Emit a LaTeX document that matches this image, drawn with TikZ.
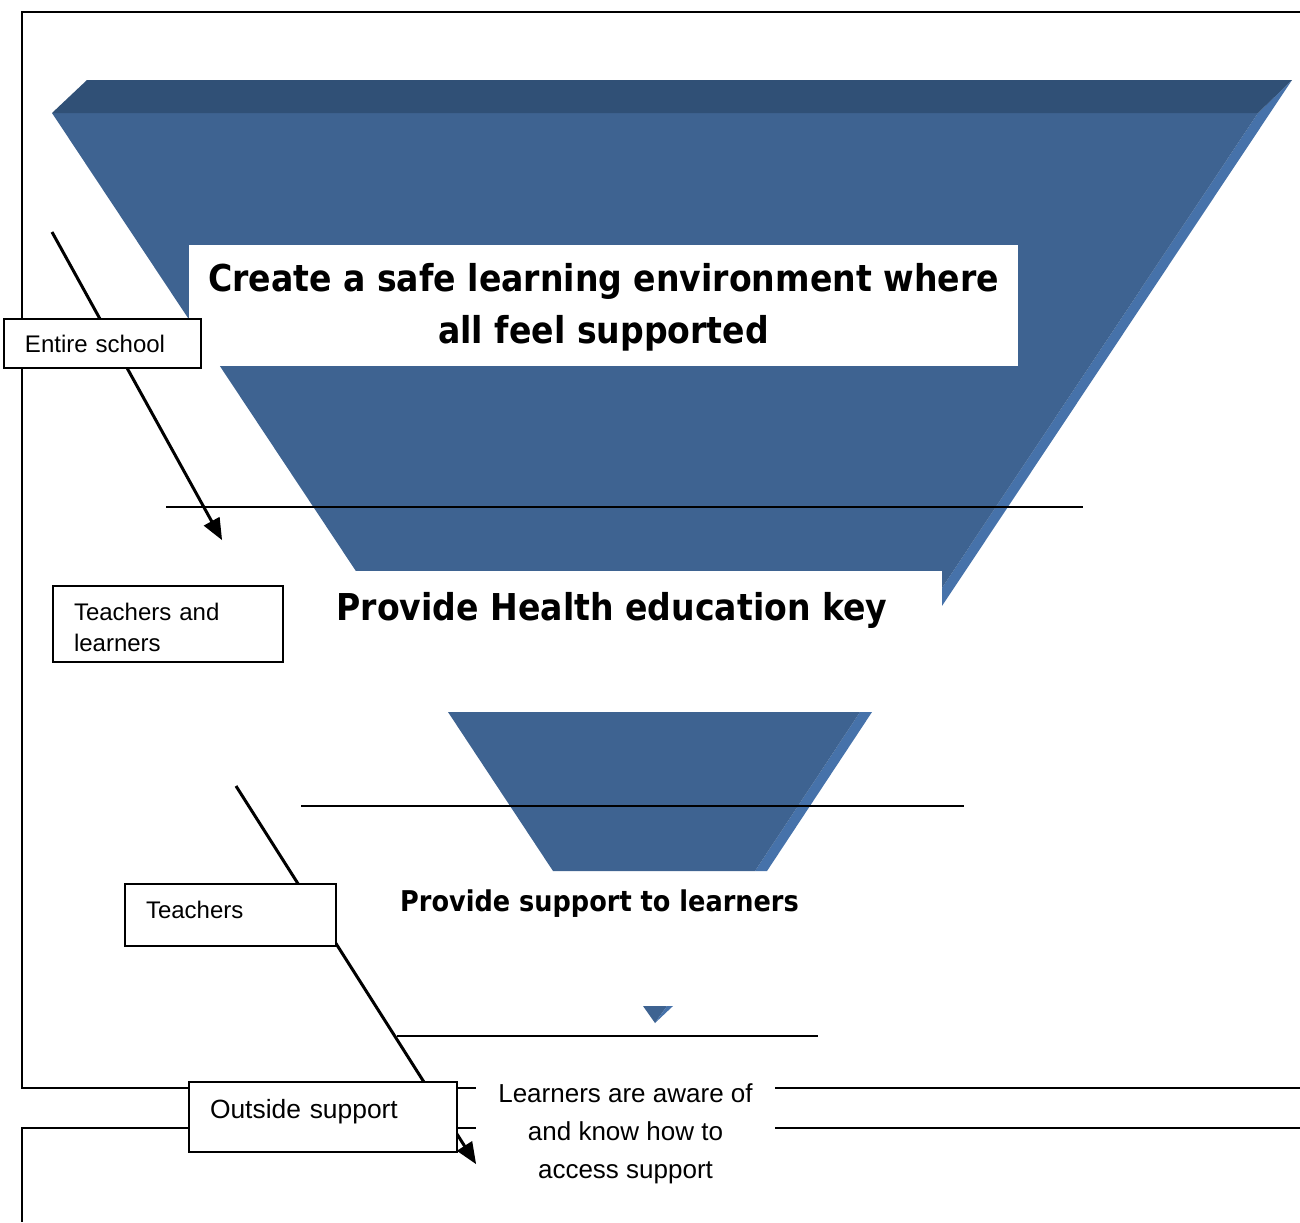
\documentclass[tikz,border=0pt]{standalone}
\usepackage{fontspec}
\setmainfont{Liberation Sans}
\newfontfamily\headfont[FakeStretch=0.895]{DejaVu Sans}
\usepackage{tikz}
\usetikzlibrary{shapes,arrows}

\definecolor{funnelfront}{RGB}{62,99,145}
\definecolor{funneltop}{RGB}{48,80,118}
\definecolor{funnelside}{RGB}{70,114,170}

\begin{document}
\begin{tikzpicture}[x=0.5pt,y=-0.5pt,
  lbl/.style={draw, fill=white, line width=1pt, anchor=north west, align=left, inner xsep=10.5pt, inner ysep=0pt, font=\fontsize{12}{15.5}\selectfont},
  banner/.style={fill=white, align=center, inner sep=0pt, font=\headfont\bfseries\fontsize{18.5}{26}\selectfont},
  rule/.style={line width=0.9pt},
  pointer/.style={line width=1.5pt, -triangle 45}
  ]
  \useasboundingbox (0,0) rectangle (1300,1222);

  % page frames
  \draw[line width=1pt] (1300,12) -- (22,12) -- (22,1088) -- (1300,1088);
  \draw[line width=1pt] (1300,1128) -- (22,1128) -- (22,1222);

  % big funnel
  \fill[funnelside] (1258,113) -- (1292,80) -- (926,630) -- (914,630) -- cycle;
  \fill[funnelfront] (52,113) -- (1258,113) -- (914,630) -- (395,630) -- cycle;
  \fill[funneltop] (87,80) -- (1292,80) -- (1258,113) -- (52,113) -- cycle;

  % small funnel
  \fill[funnelside] (860,712) -- (872,712) -- (767,871) -- (755,871) -- cycle;
  \fill[funnelfront] (448,712) -- (860,712) -- (755,871) -- (553,871) -- cycle;

  % tiny funnel
  \fill[funnelfront] (643,1006) -- (667,1006) -- (655,1023) -- cycle;
  \fill[funnelside] (667,1006) -- (673,1006) -- (655,1023) -- cycle;

  % level lines
  \draw[rule] (166,507) -- (1083,507);
  \draw[rule] (301,806) -- (964,806);
  \draw[rule] (397,1036) -- (818,1036);

  \node[banner, minimum width=414.5pt, minimum height=60.5pt, text depth=2.3pt] (safe) at (603.5,305.5) {Create a safe learning environment where\\all feel supported};
  \node[banner, minimum width=330pt, minimum height=39pt] (health) at (612,610) {Provide Health education key};
  \node[font=\headfont\bfseries\fontsize{14.3}{18}\selectfont] (support) at (599.5,904) {Provide support to learners};

  \node[fill=white, align=center, inner sep=0pt, minimum width=149.5pt, minimum height=55pt, font=\fontsize{13}{19}\selectfont] (aware) at (625.5,1134) {Learners are aware of\\and know how to\\access support};

  % arrows
  \coordinate (topstart) at (52,232);
  \coordinate (topend) at (222,540);
  \coordinate (lowstart) at (236,786);
  \coordinate (lowend) at (476,1164);
  \draw[pointer] (topstart) -- (topend);
  \draw[pointer] (lowstart) -- (lowend);

  % who is involved
  \node[lbl, text width=77.5pt, text height=16.8pt, text depth=7.7pt] (entire) at (3,318) {Entire school};
  \node[lbl, text width=94pt, text height=17.3pt, text depth=20.7pt] (teachlearn) at (52,585) {Teachers and\\learners};
  \node[lbl, text width=84.5pt, text height=17.3pt, text depth=13.7pt] (teachers) at (124,883) {Teachers};
  \node[lbl, text width=113pt, text height=18.3pt, text depth=16.7pt, font=\fontsize{13.2}{16}\selectfont] (outside) at (188,1081) {Outside support};

\end{tikzpicture}
\end{document}
